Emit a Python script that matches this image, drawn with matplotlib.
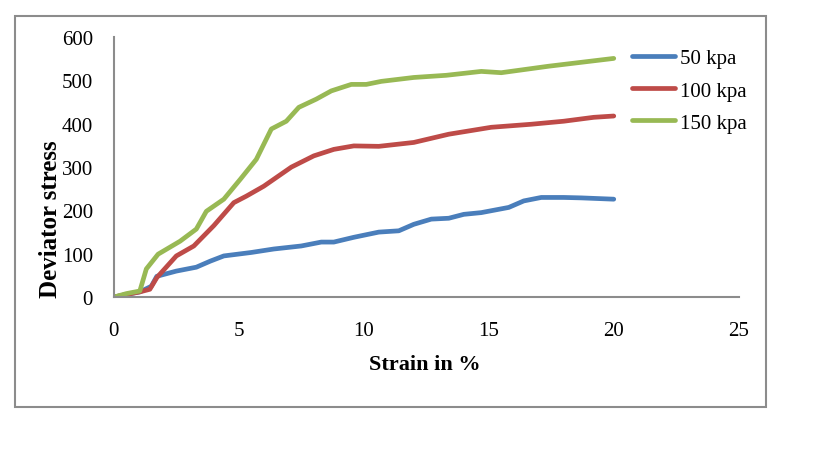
import matplotlib
matplotlib.use("Agg")
import matplotlib.pyplot as plt
from matplotlib.patches import Rectangle

plt.rcParams['font.family'] = ['Liberation Serif', 'DejaVu Serif']

# strain (%) and deviator stress
strain_50 = [0, 0.5, 1.04, 1.5, 1.72, 2.5, 3.3, 3.86, 4.4, 5.5, 6.4, 7.5, 8.3, 8.8, 9.6,
             10.6, 11.4, 12.0, 12.7, 13.4, 14.0, 14.7, 15.8, 16.4, 17.1, 18.0, 18.7, 20.0]
stress_50 = [0, 6, 12, 25, 48, 60, 69, 83, 95, 103, 111, 118, 127, 127, 138,
             150, 153, 168, 180, 182, 191, 195, 207, 222, 230, 230, 229, 226]

strain_100 = [0, 0.5, 1.04, 1.44, 1.72, 2.5, 3.2, 4.0, 4.8, 5.3, 6.0, 6.5, 7.1, 8.0, 8.8,
              9.6, 10.6, 12.0, 13.4, 15.1, 16.7, 18.0, 19.2, 20.0]
stress_100 = [0, 6, 12, 18, 45, 95, 118, 165, 218, 233, 256, 276, 300, 326, 341,
              349, 348, 357, 376, 392, 399, 406, 415, 418]

strain_150 = [0, 0.5, 1.04, 1.3, 1.77, 2.65, 3.3, 3.7, 4.4, 5.06, 5.7, 6.3, 6.9, 7.4, 8.1,
              8.7, 9.5, 10.1, 10.7, 12.0, 13.3, 14.7, 15.5, 17.4, 18.7, 20.0]
stress_150 = [0, 8, 14, 65, 99, 129, 157, 198, 226, 272, 318, 388, 406, 438, 457,
              476, 491, 491, 498, 507, 512, 521, 518, 533, 542, 551]

labels = ["50 kpa", "100 kpa", "150 kpa"]
colors = ["#4a7ebb", "#be4b48", "#98b954"]

fig = plt.figure(figsize=(8.19, 4.60), dpi=100)
ax = fig.add_axes([0.139, 0.352, 0.763, 0.565])

series = [(strain_50, stress_50), (strain_100, stress_100), (strain_150, stress_150)]
for (x, y), lab, c in zip(series, labels, colors):
    ax.plot(x, y, color=c, lw=3.4, label=lab, solid_capstyle="round")

ax.set_xlim(0, 25)
ax.set_ylim(0, 600)
ax.set_xticks(range(0, 26, 5))
ax.set_yticks(range(0, 601, 100))
ax.tick_params(length=0, labelsize=15)
ax.tick_params(axis="x", pad=17)
ax.tick_params(axis="y", pad=15)
for s in ["top", "right"]:
    ax.spines[s].set_visible(False)
for s in ["left", "bottom"]:
    ax.spines[s].set_color("#8c8c8c")
    ax.spines[s].set_linewidth(1.5)

ax.set_xlabel("Strain in %", fontsize=16, fontweight="bold")
ax.xaxis.set_label_coords(0.498, -0.22)
ax.set_ylabel("Deviator stress", fontsize=18, fontweight="bold")
ax.yaxis.set_label_coords(-0.083, 0.304)

ax.legend(loc="upper left", bbox_to_anchor=(0.829, 0.955), frameon=False,
          fontsize=15, handlelength=2.05, handletextpad=0.25, labelspacing=0.6,
          borderaxespad=0, borderpad=0)

# outer chart border
fig.patches.append(Rectangle((15 / 819, 1 - 408 / 460), 751 / 819, 391 / 460,
                             transform=fig.transFigure, fill=False,
                             edgecolor="#8c8c8c", lw=1.5))

fig.savefig("out.png", dpi=100)
